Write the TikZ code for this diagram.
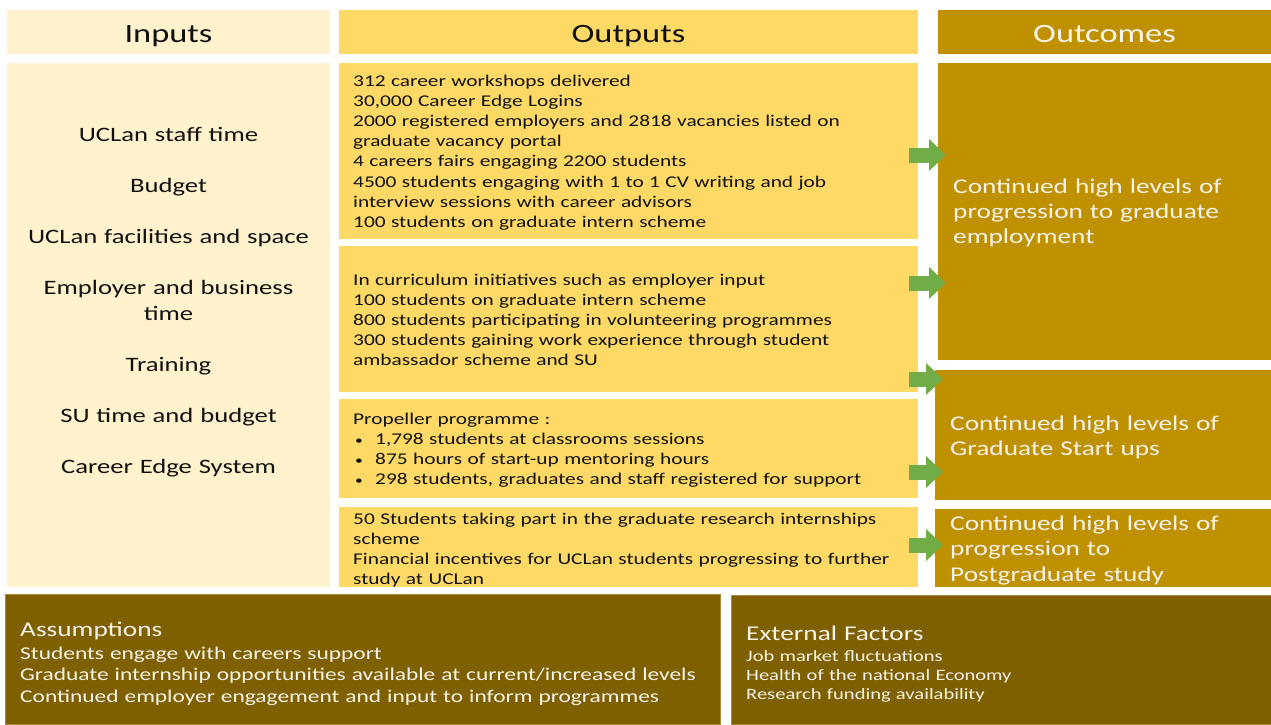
\documentclass[tikz,border=0pt]{standalone}
\usepackage{fontspec}
\setmainfont{Carlito}[FakeStretch=1.3]
\usetikzlibrary{arrows.meta}

\definecolor{inputfill}{HTML}{FFF2CC}
\definecolor{outputfill}{HTML}{FFD966}
\definecolor{outcomefill}{HTML}{BF9000}
\definecolor{contextfill}{HTML}{7F6000}
\definecolor{contextedge}{HTML}{A88A3A}
\definecolor{flowgreen}{HTML}{70AD47}
\definecolor{lighttext}{HTML}{F6F3EA}
\definecolor{darktext}{HTML}{111111}

\newcommand\listbullet{\hspace*{2pt}\makebox[20pt][l]{\fontsize{12}{12}\selectfont\textbullet}}

\tikzset{
  panel/.style={rectangle, inner sep=0pt, outer sep=0pt, anchor=north west, draw=none},
  headtext/.style={anchor=base, inner sep=0pt, font=\fontsize{26.5}{32}\selectfont},
  blocktext/.style={anchor=base west, inner sep=0pt, align=left, text width=#1},
  inputtext/.style={anchor=base, inner sep=0pt, align=center, text width=310pt,
    font=\fontsize{20.5}{25.5}\selectfont, text=darktext},
  outputtext/.style={blocktext=560pt, font=\fontsize{16.4}{20.1}\selectfont, text=darktext},
  outcometext/.style={blocktext=315pt, font=\fontsize{21}{25.3}\selectfont, text=lighttext},
  flow/.style={draw=flowgreen, line width=15pt,
    -{Triangle[length=17pt,width=31pt,fill=flowgreen]},
    shorten <=-9pt, shorten >=-8pt}
}

\begin{document}
\begin{tikzpicture}[x=1pt,y=1pt]
\useasboundingbox (0,0) rectangle (1271,-724);

% column headers
\node[panel, fill=inputfill,   minimum width=323pt, minimum height=44pt] (hin)  at (7,-10)   {};
\node[panel, fill=outputfill,  minimum width=579pt, minimum height=44pt] (hout) at (339,-10) {};
\node[panel, fill=outcomefill, minimum width=333pt, minimum height=44pt] (hoc)  at (938,-10) {};
\node[headtext, text=darktext]  (hintext)  at (168.5,-42) {Inputs};
\node[headtext, text=darktext]  (houttext) at (628.5,-42) {Outputs};
\node[headtext, text=lighttext] (hoctext)  at (1104.5,-42) {Outcomes};

% inputs column
\node[panel, fill=inputfill, minimum width=323pt, minimum height=524pt] (inb) at (7,-63) {};
\node[inputtext] (inlist) at (168.5,-141.5) {UCLan staff time\\[25.5pt]
  Budget\\[25.5pt]
  UCLan facilities and space\\[25.5pt]
  Employer and business\\time\\[25.5pt]
  Training\\[25.5pt]
  SU time and budget\\[25.5pt]
  Career Edge System};

% outputs column
\node[panel, fill=outputfill, minimum width=579pt, minimum height=176pt] (o1) at (339,-63)  {};
\node[panel, fill=outputfill, minimum width=579pt, minimum height=146pt] (o2) at (339,-246) {};
\node[panel, fill=outputfill, minimum width=579pt, minimum height=99pt]  (o3) at (339,-399) {};
\node[panel, fill=outputfill, minimum width=579pt, minimum height=80pt]  (o4) at (339,-507) {};

\node[outputtext] (o1text) at (353,-86.5) {312 career workshops delivered\\
  30,000 Career Edge Logins\\
  2000 registered employers and 2818 vacancies listed on\\
  graduate vacancy portal\\
  4 careers fairs engaging 2200 students\\
  4500 students engaging with 1 to 1 CV writing and job\\
  interview sessions with career advisors\\
  100 students on graduate intern scheme};

\node[outputtext] (o2text) at (353,-285) {In curriculum initiatives such as employer input\\
  100 students on graduate intern scheme\\
  800 students participating in volunteering programmes\\
  300 students gaining work experience through student\\
  ambassador scheme and SU};

\node[outputtext] (o3text) at (353,-424) {Propeller programme :\\
  \listbullet 1,798 students at classrooms sessions\\
  \listbullet 875 hours of start-up mentoring hours\\
  \listbullet 298 students, graduates and staff registered for support};

\node[outputtext] (o4text) at (353,-524) {50 Students taking part in the graduate research internships\\
  scheme\\
  Financial incentives for UCLan students progressing to further\\
  study at UCLan};

% outcomes column
\node[panel, fill=outcomefill, minimum width=333pt, minimum height=297pt] (oc1) at (938,-63)  {};
\node[panel, fill=outcomefill, minimum width=336pt, minimum height=130pt] (oc2) at (935,-370) {};
\node[panel, fill=outcomefill, minimum width=336pt, minimum height=78pt]  (oc3) at (935,-509) {};

\node[outcometext] (oc1text) at (953,-193) {Continued high levels of\\
  progression to graduate\\
  employment};
\node[outcometext] (oc2text) at (950,-430.5) {Continued high levels of\\
  Graduate Start ups};
\node[outcometext] (oc3text) at (950,-530.5) {Continued high levels of\\
  progression to\\
  Postgraduate study};

% links from outputs to outcomes
\coordinate (r1) at (0,-155);
\coordinate (r2) at (0,-283);
\coordinate (r3) at (0,-379);
\coordinate (r4) at (0,-472);
\coordinate (r5) at (0,-545);
\draw[flow] (o1.east |- r1) -- (oc1.west |- r1);
\draw[flow] (o2.east |- r2) -- (oc1.west |- r2);
\draw[flow] (o2.east |- r3) -- (oc2.west |- r3);
\draw[flow] (o3.east |- r4) -- (oc2.west |- r4);
\draw[flow] (o4.east |- r5) -- (oc3.west |- r5);

% context boxes
\node[panel, fill=contextfill, draw=contextedge, line width=1pt,
  minimum width=715pt, minimum height=130pt] (asm) at (5,-594) {};
\node[panel, fill=contextfill, draw=contextedge, line width=1pt,
  minimum width=540pt, minimum height=129pt] (ext) at (731,-595) {};

\node[blocktext=300pt, font=\fontsize{21}{24}\selectfont, text=lighttext]
  (asmtitle) at (20,-636) {Assumptions};
\node[blocktext=700pt, font=\fontsize{18}{21.8}\selectfont, text=lighttext]
  (asmtext) at (20,-659) {Students engage with careers support\\
  Graduate internship opportunities available at current/increased levels\\
  Continued employer engagement and input to inform programmes};

\node[blocktext=300pt, font=\fontsize{21}{24}\selectfont, text=lighttext]
  (exttitle) at (746,-640) {External Factors};
\node[blocktext=500pt, font=\fontsize{15.8}{19.2}\selectfont, text=lighttext]
  (exttext) at (746,-661) {Job market fluctuations\\
  Health of the national Economy\\
  Research funding availability};
\end{tikzpicture}
\end{document}
